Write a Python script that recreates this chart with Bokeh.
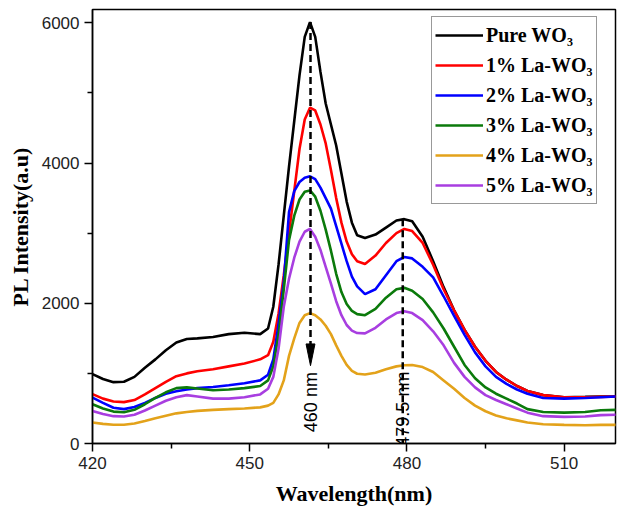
import math
from bokeh.plotting import figure
from bokeh.models import Range1d, FixedTicker, Legend, LegendItem
from bokeh.core.properties import value
from bokeh.embed import file_html
from bokeh.resources import INLINE

# ---------------- data ----------------
wavelength = [420, 422, 424, 426, 428, 430, 432, 434, 436, 438, 440, 443, 446, 449, 452,
              453.5, 454.5, 455.5, 456.5, 457.5, 458.5, 459.5, 460.5, 461.5, 462.5, 463.5,
              464.5, 465.5, 466.5, 467.5, 468.5, 469.5, 470.5,
              472, 474, 476, 478, 479.5, 481, 483, 485, 487, 489, 491, 493, 495, 497, 499,
              501, 503, 506, 510, 514, 517, 520]

pure_wo3 = [990, 920, 875, 880, 950, 1080, 1200, 1330, 1440, 1490, 1500, 1520, 1560, 1580, 1560,
            1640, 1950, 2550, 3250, 3950, 4600, 5250, 5800, 6010, 5800, 5300,
            4850, 4550, 4250, 3850, 3450, 3150, 2970,
            2930, 2980, 3080, 3180, 3200, 3170, 2950, 2600, 2230, 1900, 1620, 1380, 1180, 1020, 910,
            820, 750, 690, 660, 665, 670, 670]

la1 = [705, 640, 600, 590, 620, 700, 790, 880, 960, 1000, 1030, 1060, 1100, 1140, 1200,
       1260, 1450, 1850, 2400, 3000, 3600, 4200, 4620, 4790, 4750, 4550,
       4280, 3900, 3500, 3150, 2880, 2700, 2600,
       2560, 2680, 2860, 3000, 3060, 3030, 2860, 2550, 2200, 1900, 1620, 1380, 1180, 1020, 910,
       820, 750, 690, 660, 660, 665, 670]

la2 = [655, 580, 510, 490, 520, 580, 650, 710, 745, 770, 790, 805, 830, 860, 900,
       980, 1200, 1700, 2300, 3300, 3600, 3730, 3790, 3810, 3770, 3650,
       3500, 3350, 3100, 2850, 2600, 2380, 2240,
       2130, 2200, 2400, 2600, 2660, 2640, 2520, 2370, 2100, 1820, 1550, 1300, 1100, 950, 850,
       770, 710, 650, 640, 650, 660, 670]

la3 = [560, 500, 455, 445, 480, 560, 650, 730, 790, 800, 785, 760, 770, 790, 820,
       900, 1100, 1550, 2200, 2900, 3250, 3480, 3590, 3610, 3520, 3320,
       3050, 2750, 2420, 2160, 1990, 1890, 1845,
       1830, 1920, 2080, 2200, 2220, 2180, 2060, 1870, 1640, 1380, 1120, 930, 800, 710, 640,
       570, 490, 450, 440, 450, 475, 480]

la4 = [300, 280, 268, 268, 285, 320, 360, 395, 430, 450, 465, 480, 490, 500, 515,
       540, 580, 700, 900, 1250, 1500, 1720, 1830, 1860, 1830, 1770,
       1680, 1560, 1400, 1250, 1120, 1035, 995,
       985, 1010, 1060, 1100, 1115, 1120, 1090, 1020, 900, 780, 650, 540, 460, 400, 360,
       330, 300, 275, 265, 260, 265, 265]

la5 = [465, 420, 390, 385, 410, 470, 540, 610, 660, 690, 670, 640, 640, 660, 700,
       780, 950, 1350, 1950, 2350, 2650, 2880, 3020, 3060, 2950, 2760,
       2520, 2280, 2030, 1830, 1690, 1610, 1575,
       1570, 1650, 1770, 1860, 1885, 1860, 1760, 1600, 1400, 1150, 950, 800, 690, 620, 560,
       500, 440, 390, 380, 385, 405, 410]

series_labels = ["Pure WO\u2083", "1% La-WO\u2083", "2% La-WO\u2083",
                 "3% La-WO\u2083", "4% La-WO\u2083", "5% La-WO\u2083"]
series_values = [pure_wo3, la1, la2, la3, la4, la5]
series_colors = ["#000000", "#ff0000", "#0000ff", "#0b7a0b", "#e3a21a", "#a83ee0"]

x_ticks = [420, 450, 480, 510]
x_minor = [435, 465, 495]
y_ticks = [0, 2000, 4000, 6000]
y_minor = [1000, 3000, 5000]

# annotation positions (data units)
peak1_x = 461.6
peak2_x = 479.2
peak1_label = "460 nm"
peak2_label = "479.5 nm"

# ---------------- figure ----------------
p = figure(width=617, height=511, output_backend="svg", toolbar_location=None,
           x_range=Range1d(420, 519.8), y_range=Range1d(0, 6190),
           min_border_left=92, min_border_right=2, min_border_top=9, min_border_bottom=68)
p.grid.visible = False
p.outline_line_color = "black"
p.outline_line_width = 1.5
p.background_fill_color = "white"
p.border_fill_color = "white"

for ax in (p.xaxis[0], p.yaxis[0]):
    ax.axis_line_width = 1.5
    ax.axis_line_color = "black"
    ax.major_tick_line_width = 1.5
    ax.minor_tick_line_width = 1.5
    ax.major_tick_out = 8
    ax.major_tick_in = 0
    ax.minor_tick_out = 5
    ax.minor_tick_in = 0
    ax.major_label_text_font = "Liberation Sans"
    ax.major_label_text_font_size = "17px"
    ax.major_label_text_color = "#222222"
    ax.axis_label_text_font = "Liberation Serif"
    ax.axis_label_text_font_style = "bold"
    ax.axis_label_text_font_size = "22px"
    ax.axis_label_text_color = "black"

p.xaxis[0].ticker = FixedTicker(ticks=x_ticks, minor_ticks=x_minor)
p.yaxis[0].ticker = FixedTicker(ticks=y_ticks, minor_ticks=y_minor)
p.xaxis[0].axis_label = "Wavelength(nm)"
p.yaxis[0].axis_label = "PL Intensity(a.u)"
p.xaxis[0].major_label_standoff = 5
p.yaxis[0].major_label_standoff = 5
p.xaxis[0].axis_label_standoff = 9
p.yaxis[0].axis_label_standoff = 6

renderers = []
for vals, col in zip(series_values, series_colors):
    renderers.append(p.line(wavelength, vals, line_color=col, line_width=2.6))

# dashed marker lines
top1 = max(pure_wo3)
p.segment(x0=[peak1_x], y0=[top1], x1=[peak1_x], y1=[1420],
          line_color="black", line_width=2.5, line_dash="7 4")
p.patch(x=[peak1_x - 0.85, peak1_x + 0.85, peak1_x], y=[1420, 1420, 1110],
        fill_color="black", line_color="black", line_width=1)
p.segment(x0=[peak2_x], y0=[3200], x1=[peak2_x], y1=[0],
          line_color="black", line_width=2.5, line_dash="7 4")
p.text(x=[peak1_x, peak2_x], y=[590, 490], text=[peak1_label, peak2_label],
       angle=math.pi / 2, text_font=value("Liberation Sans"), text_font_size="18px",
       text_align="center", text_baseline="middle", text_color="black")

items = [LegendItem(label=lab, renderers=[r]) for lab, r in zip(series_labels, renderers)]
legend = Legend(items=items, location=(339, 239),
                label_text_font="Liberation Serif", label_text_font_style="bold",
                label_text_font_size="20px", label_text_color="black",
                glyph_width=48, glyph_height=30, label_height=30, spacing=0,
                padding=3, margin=0, label_standoff=3,
                border_line_color="#333333", border_line_width=1.5,
                background_fill_color="white", background_fill_alpha=1.0)
p.add_layout(legend)

open("out.html", "w").write(file_html(p, INLINE))
